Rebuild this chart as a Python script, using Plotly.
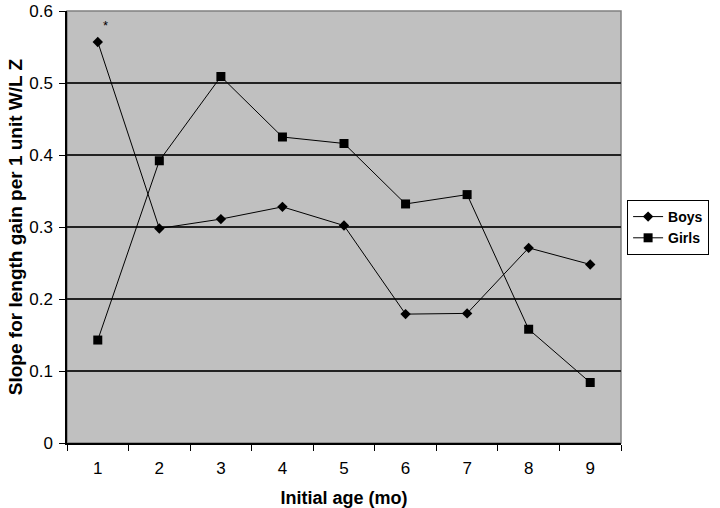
import plotly.graph_objects as go

ages = ["1", "2", "3", "4", "5", "6", "7", "8", "9"]
boys = [0.557, 0.298, 0.311, 0.328, 0.302, 0.179, 0.180, 0.271, 0.248]
girls = [0.143, 0.392, 0.509, 0.425, 0.416, 0.332, 0.345, 0.158, 0.084]
y_ticks = [0, 0.1, 0.2, 0.3, 0.4, 0.5, 0.6]
y_tick_text = ["0", "0.1", "0.2", "0.3", "0.4", "0.5", "0.6"]

FONT = "Liberation Sans, Arial, sans-serif"

fig = go.Figure()
fig.add_trace(go.Scatter(
    x=ages, y=boys, name="Boys", mode="lines+markers",
    line=dict(color="black", width=1),
    marker=dict(symbol="diamond", size=8, color="black"),
))
fig.add_trace(go.Scatter(
    x=ages, y=girls, name="Girls", mode="lines+markers",
    line=dict(color="black", width=1),
    marker=dict(symbol="square", size=9, color="black"),
))

# significance marker above the first Boys point (category index 0)
fig.add_annotation(x=0, y=boys[0], text="*", showarrow=False,
                   xshift=8, yshift=16, font=dict(family=FONT, size=13, color="black"))

# plot-area border (grey top/right like Excel)
fig.add_shape(type="rect", xref="paper", yref="paper", x0=0, y0=0, x1=1, y1=1,
              line=dict(color="#808080", width=1.5), layer="below")

fig.update_layout(
    width=720, height=508,
    margin=dict(l=67, r=84, t=11, b=65),
    paper_bgcolor="white",
    plot_bgcolor="#C0C0C0",
    font=dict(family=FONT, size=17, color="black"),
    showlegend=True,
    legend=dict(
        x=1.011, y=0.5625, xanchor="left", yanchor="top",
        bgcolor="white", bordercolor="black", borderwidth=1,
        font=dict(family=FONT, size=14, color="black", weight="bold"),
        itemwidth=30, tracegroupgap=0,
    ),
)
fig.update_xaxes(
    type="category", range=[-0.5, 8.5], automargin=False,
    tickson="boundaries", ticks="outside", ticklen=6, tickcolor="black", tickwidth=1,
    ticklabelstandoff=9,
    showline=True, linecolor="black", linewidth=1.5,
    showgrid=False, zeroline=False,
    tickfont=dict(family=FONT, size=17, color="black"),
    title=dict(text="Initial age (mo)", font=dict(family=FONT, size=18, color="black", weight="bold"), standoff=14),
)
fig.update_yaxes(
    range=[0, 0.6], tickvals=y_ticks, ticktext=y_tick_text, automargin=False,
    ticks="outside", ticklen=6, tickcolor="black", tickwidth=1,
    ticklabelstandoff=3,
    showline=True, linecolor="black", linewidth=1.5,
    showgrid=True, gridcolor="#222222", gridwidth=2, zeroline=False,
    tickfont=dict(family=FONT, size=17, color="black"),
    title=dict(text="Slope for length gain per 1 unit W/L Z", font=dict(family=FONT, size=19, color="black", weight="bold"), standoff=2),
)

fig.write_html("out.html", config={"displayModeBar": False},
               post_script="document.body.style.margin='0';")
